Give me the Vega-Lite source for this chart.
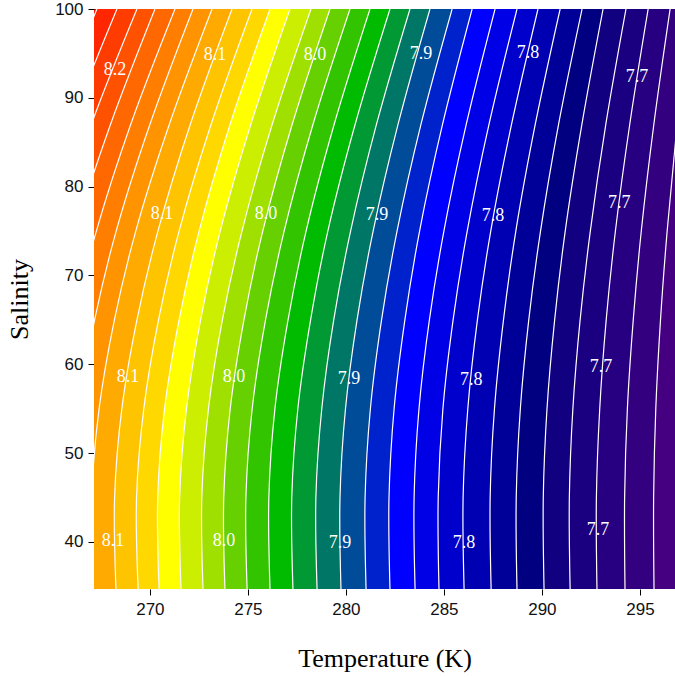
{
  "$schema": "https://vega.github.io/schema/vega-lite/v6.json",
  "width": 581,
  "height": 580,
  "autosize": {"type": "none"},
  "padding": {"left": 94, "top": 9, "right": 0, "bottom": 88},
  "background": "white",
  "config": {
    "view": {"stroke": null, "fill": "#FF1000"},
    "axis": {
      "domain": false,
      "grid": false,
      "tickColor": "#000000",
      "tickSize": 6,
      "labelFont": "Liberation Sans",
      "labelFontSize": 17,
      "labelColor": "#111111",
      "titleFont": "Liberation Serif",
      "titleFontSize": 26,
      "titleFontWeight": "normal",
      "titleColor": "#000000"
    },
    "axisX": {"labelPadding": 6, "titlePadding": 28},
    "axisY": {"labelPadding": 5, "titlePadding": 22}
  },
  "datasets": {
    "lines": [
      {"p":8.24,"S":34.7,"T":260.72},{"p":8.24,"S":45,"T":260.65},{"p":8.24,"S":55,"T":261.05},{"p":8.24,"S":65,"T":261.91},{"p":8.24,"S":75,"T":263.09},{"p":8.24,"S":87,"T":264.94},{"p":8.24,"S":100,"T":267.30},
      {"p":8.22,"S":34.7,"T":261.79},{"p":8.22,"S":45,"T":261.72},{"p":8.22,"S":55,"T":262.12},{"p":8.22,"S":65,"T":262.97},{"p":8.22,"S":75,"T":264.15},{"p":8.22,"S":87,"T":265.97},{"p":8.22,"S":100,"T":268.32},
      {"p":8.20,"S":34.7,"T":262.86},{"p":8.20,"S":45,"T":262.79},{"p":8.20,"S":55,"T":263.19},{"p":8.20,"S":65,"T":264.03},{"p":8.20,"S":75,"T":265.20},{"p":8.20,"S":87,"T":267.01},{"p":8.20,"S":100,"T":269.34},
      {"p":8.18,"S":34.7,"T":263.94},{"p":8.18,"S":45,"T":263.86},{"p":8.18,"S":55,"T":264.25},{"p":8.18,"S":65,"T":265.07},{"p":8.18,"S":75,"T":266.21},{"p":8.18,"S":87,"T":267.99},{"p":8.18,"S":100,"T":270.26},
      {"p":8.16,"S":34.7,"T":265.01},{"p":8.16,"S":45,"T":264.93},{"p":8.16,"S":55,"T":265.32},{"p":8.16,"S":65,"T":266.13},{"p":8.16,"S":75,"T":267.27},{"p":8.16,"S":87,"T":269.02},{"p":8.16,"S":100,"T":271.28},
      {"p":8.14,"S":34.7,"T":266.08},{"p":8.14,"S":45,"T":266.01},{"p":8.14,"S":55,"T":266.38},{"p":8.14,"S":65,"T":267.18},{"p":8.14,"S":75,"T":268.28},{"p":8.14,"S":87,"T":270.00},{"p":8.14,"S":100,"T":272.20},
      {"p":8.12,"S":34.7,"T":267.10},{"p":8.12,"S":45,"T":267.03},{"p":8.12,"S":55,"T":267.41},{"p":8.12,"S":65,"T":268.19},{"p":8.12,"S":75,"T":269.28},{"p":8.12,"S":87,"T":270.99},{"p":8.12,"S":100,"T":273.17},
      {"p":8.10,"S":34.7,"T":268.27},{"p":8.10,"S":45,"T":268.20},{"p":8.10,"S":55,"T":268.57},{"p":8.10,"S":65,"T":269.34},{"p":8.10,"S":75,"T":270.41},{"p":8.10,"S":87,"T":272.06},{"p":8.10,"S":100,"T":274.19},
      {"p":8.08,"S":34.7,"T":269.40},{"p":8.08,"S":45,"T":269.32},{"p":8.08,"S":55,"T":269.69},{"p":8.08,"S":65,"T":270.44},{"p":8.08,"S":75,"T":271.49},{"p":8.08,"S":87,"T":273.12},{"p":8.08,"S":100,"T":275.21},
      {"p":8.06,"S":34.7,"T":270.47},{"p":8.06,"S":45,"T":270.40},{"p":8.06,"S":55,"T":270.75},{"p":8.06,"S":65,"T":271.49},{"p":8.06,"S":75,"T":272.51},{"p":8.06,"S":87,"T":274.09},{"p":8.06,"S":100,"T":276.13},
      {"p":8.04,"S":34.7,"T":271.59},{"p":8.04,"S":45,"T":271.52},{"p":8.04,"S":55,"T":271.87},{"p":8.04,"S":65,"T":272.59},{"p":8.04,"S":75,"T":273.59},{"p":8.04,"S":87,"T":275.15},{"p":8.04,"S":100,"T":277.15},
      {"p":8.02,"S":34.7,"T":272.71},{"p":8.02,"S":45,"T":272.65},{"p":8.02,"S":55,"T":272.99},{"p":8.02,"S":65,"T":273.70},{"p":8.02,"S":75,"T":274.70},{"p":8.02,"S":87,"T":276.24},{"p":8.02,"S":100,"T":278.22},
      {"p":8.00,"S":34.7,"T":273.83},{"p":8.00,"S":45,"T":273.77},{"p":8.00,"S":55,"T":274.10},{"p":8.00,"S":65,"T":274.80},{"p":8.00,"S":75,"T":275.76},{"p":8.00,"S":87,"T":277.26},{"p":8.00,"S":100,"T":279.19},
      {"p":7.98,"S":34.7,"T":274.96},{"p":7.98,"S":45,"T":274.90},{"p":7.98,"S":55,"T":275.22},{"p":7.98,"S":65,"T":275.90},{"p":7.98,"S":75,"T":276.85},{"p":7.98,"S":87,"T":278.32},{"p":7.98,"S":100,"T":280.21},
      {"p":7.96,"S":34.7,"T":276.13},{"p":7.96,"S":45,"T":276.07},{"p":7.96,"S":55,"T":276.38},{"p":7.96,"S":65,"T":277.05},{"p":7.96,"S":75,"T":277.97},{"p":7.96,"S":87,"T":279.40},{"p":7.96,"S":100,"T":281.23},
      {"p":7.94,"S":34.7,"T":277.30},{"p":7.94,"S":45,"T":277.24},{"p":7.94,"S":55,"T":277.55},{"p":7.94,"S":65,"T":278.20},{"p":7.94,"S":75,"T":279.08},{"p":7.94,"S":87,"T":280.47},{"p":7.94,"S":100,"T":282.25},
      {"p":7.92,"S":34.7,"T":278.53},{"p":7.92,"S":45,"T":278.47},{"p":7.92,"S":55,"T":278.77},{"p":7.92,"S":65,"T":279.38},{"p":7.92,"S":75,"T":280.24},{"p":7.92,"S":87,"T":281.56},{"p":7.92,"S":100,"T":283.27},
      {"p":7.90,"S":34.7,"T":279.75},{"p":7.90,"S":45,"T":279.70},{"p":7.90,"S":55,"T":279.98},{"p":7.90,"S":65,"T":280.57},{"p":7.90,"S":75,"T":281.39},{"p":7.90,"S":87,"T":282.66},{"p":7.90,"S":100,"T":284.29},
      {"p":7.88,"S":34.7,"T":281.03},{"p":7.88,"S":45,"T":280.98},{"p":7.88,"S":55,"T":281.25},{"p":7.88,"S":65,"T":281.82},{"p":7.88,"S":75,"T":282.61},{"p":7.88,"S":87,"T":283.83},{"p":7.88,"S":100,"T":285.42},
      {"p":7.86,"S":34.7,"T":282.25},{"p":7.86,"S":45,"T":282.20},{"p":7.86,"S":55,"T":282.46},{"p":7.86,"S":65,"T":283.01},{"p":7.86,"S":75,"T":283.76},{"p":7.86,"S":87,"T":284.93},{"p":7.86,"S":100,"T":286.44},
      {"p":7.84,"S":34.7,"T":283.53},{"p":7.84,"S":45,"T":283.48},{"p":7.84,"S":55,"T":283.73},{"p":7.84,"S":65,"T":284.26},{"p":7.84,"S":75,"T":285.00},{"p":7.84,"S":87,"T":286.14},{"p":7.84,"S":100,"T":287.61},
      {"p":7.82,"S":34.7,"T":284.75},{"p":7.82,"S":45,"T":284.71},{"p":7.82,"S":55,"T":284.95},{"p":7.82,"S":65,"T":285.47},{"p":7.82,"S":75,"T":286.19},{"p":7.82,"S":87,"T":287.30},{"p":7.82,"S":100,"T":288.73},
      {"p":7.80,"S":34.7,"T":286.03},{"p":7.80,"S":45,"T":285.98},{"p":7.80,"S":55,"T":286.22},{"p":7.80,"S":65,"T":286.71},{"p":7.80,"S":75,"T":287.39},{"p":7.80,"S":87,"T":288.45},{"p":7.80,"S":100,"T":289.80},
      {"p":7.78,"S":34.7,"T":287.41},{"p":7.78,"S":45,"T":287.36},{"p":7.78,"S":55,"T":287.58},{"p":7.78,"S":65,"T":288.04},{"p":7.78,"S":75,"T":288.67},{"p":7.78,"S":87,"T":289.66},{"p":7.78,"S":100,"T":290.93},
      {"p":7.76,"S":34.7,"T":288.73},{"p":7.76,"S":45,"T":288.69},{"p":7.76,"S":55,"T":288.90},{"p":7.76,"S":65,"T":289.33},{"p":7.76,"S":75,"T":289.93},{"p":7.76,"S":87,"T":290.85},{"p":7.76,"S":100,"T":292.05},
      {"p":7.74,"S":34.7,"T":290.11},{"p":7.74,"S":45,"T":290.07},{"p":7.74,"S":55,"T":290.26},{"p":7.74,"S":65,"T":290.65},{"p":7.74,"S":75,"T":291.19},{"p":7.74,"S":87,"T":292.04},{"p":7.74,"S":100,"T":293.12},
      {"p":7.72,"S":34.7,"T":291.44},{"p":7.72,"S":45,"T":291.40},{"p":7.72,"S":55,"T":291.58},{"p":7.72,"S":65,"T":291.95},{"p":7.72,"S":75,"T":292.47},{"p":7.72,"S":87,"T":293.26},{"p":7.72,"S":100,"T":294.29},
      {"p":7.70,"S":34.7,"T":292.81},{"p":7.70,"S":45,"T":292.78},{"p":7.70,"S":55,"T":292.95},{"p":7.70,"S":65,"T":293.28},{"p":7.70,"S":75,"T":293.75},{"p":7.70,"S":87,"T":294.48},{"p":7.70,"S":100,"T":295.42},
      {"p":7.68,"S":34.7,"T":294.24},{"p":7.68,"S":45,"T":294.22},{"p":7.68,"S":55,"T":294.36},{"p":7.68,"S":65,"T":294.66},{"p":7.68,"S":75,"T":295.07},{"p":7.68,"S":87,"T":295.71},{"p":7.68,"S":100,"T":296.54},
      {"p":7.66,"S":34.7,"T":295.72},{"p":7.66,"S":45,"T":295.70},{"p":7.66,"S":55,"T":295.81},{"p":7.66,"S":65,"T":296.05},{"p":7.66,"S":75,"T":296.39},{"p":7.66,"S":87,"T":296.90},{"p":7.66,"S":100,"T":297.56}
    ],
    "labels": [
      {"t":"8.2","T":268.22,"S":93.13},{"t":"8.1","T":273.32,"S":94.82},{"t":"8.0","T":278.43,"S":94.82},{"t":"7.9","T":283.83,"S":94.93},{"t":"7.8","T":289.29,"S":95.05},{"t":"7.7","T":294.85,"S":92.34},
      {"t":"8.1","T":270.62,"S":76.92},{"t":"8.0","T":275.93,"S":76.92},{"t":"7.9","T":281.59,"S":76.81},{"t":"7.8","T":287.51,"S":76.69},{"t":"7.7","T":293.94,"S":78.16},
      {"t":"8.1","T":268.89,"S":58.57},{"t":"8.0","T":274.29,"S":58.57},{"t":"7.9","T":280.16,"S":58.34},{"t":"7.8","T":286.39,"S":58.23},{"t":"7.7","T":293.02,"S":59.69},
      {"t":"8.1","T":268.12,"S":40.10},{"t":"8.0","T":273.78,"S":40.10},{"t":"7.9","T":279.70,"S":39.88},{"t":"7.8","T":286.03,"S":39.88},{"t":"7.7","T":292.86,"S":41.34}
    ]
  },
  "layer": [
    {
      "data": {"name": "lines"},
      "transform": [
        {"window": [{"op": "lead", "field": "T", "as": "T2"}], "groupby": ["S"], "sort": [{"field": "p", "order": "descending"}]},
        {"filter": "datum.T2 != null"}
      ],
      "mark": {"type": "area", "orient": "horizontal", "interpolate": "catmull-rom", "clip": true},
      "encoding": {
        "y": {"field": "S", "type": "quantitative", "scale": {"domain": [34.7, 100], "nice": false, "zero": false}, "axis": {"values": [40, 50, 60, 70, 80, 90, 100]}, "title": "Salinity"},
        "x": {"field": "T", "type": "quantitative", "stack": null, "scale": {"domain": [267.15, 296.79], "nice": false, "zero": false}, "axis": {"values": [270, 275, 280, 285, 290, 295]}, "title": "Temperature (K)"},
        "x2": {"field": "T2"},
        "color": {
          "field": "p", "type": "ordinal", "legend": null,
          "scale": {
            "domain": [8.24, 8.22, 8.20, 8.18, 8.16, 8.14, 8.12, 8.10, 8.08, 8.06, 8.04, 8.02, 8.00, 7.98, 7.96, 7.94, 7.92, 7.90, 7.88, 7.86, 7.84, 7.82, 7.80, 7.78, 7.76, 7.74, 7.72, 7.70, 7.68, 7.66],
            "range": ["#FF2600", "#FF3C00", "#FF5200", "#FF6800", "#FF7E00", "#FF9400", "#FFAA00", "#FFC400", "#FFD800", "#FFFF00", "#CCEE00", "#A0E000", "#66D000", "#33C400", "#00BB00", "#009933", "#007766", "#004C99", "#0022CC", "#0000FF", "#0000E6", "#0000CC", "#0000B3", "#000099", "#000080", "#110080", "#1A0080", "#260080", "#330080", "#440080"]
          }
        }
      }
    },
    {
      "data": {"name": "lines"},
      "transform": [{"filter": "datum.p == 7.66"}],
      "mark": {"type": "area", "orient": "horizontal", "interpolate": "catmull-rom", "clip": true, "color": "#440080"},
      "encoding": {
        "y": {"field": "S", "type": "quantitative", "title": "Salinity"},
        "x": {"field": "T", "type": "quantitative", "stack": null, "title": "Temperature (K)"},
        "x2": {"datum": 300}
      }
    },
    {
      "data": {"name": "lines"},
      "mark": {"type": "line", "interpolate": "catmull-rom", "clip": true, "color": "#FFFFFF", "strokeWidth": 1.2},
      "encoding": {
        "y": {"field": "S", "type": "quantitative", "title": "Salinity"},
        "x": {"field": "T", "type": "quantitative", "title": "Temperature (K)"},
        "detail": {"field": "p", "type": "nominal"},
        "order": {"field": "S", "type": "quantitative"}
      }
    },
    {
      "data": {"name": "labels"},
      "mark": {"type": "text", "font": "Liberation Serif", "fontSize": 18, "color": "#FFFFFF", "align": "center", "baseline": "middle"},
      "encoding": {
        "y": {"field": "S", "type": "quantitative", "title": "Salinity"},
        "x": {"field": "T", "type": "quantitative", "title": "Temperature (K)"},
        "text": {"field": "t", "type": "nominal"}
      }
    }
  ]
}
